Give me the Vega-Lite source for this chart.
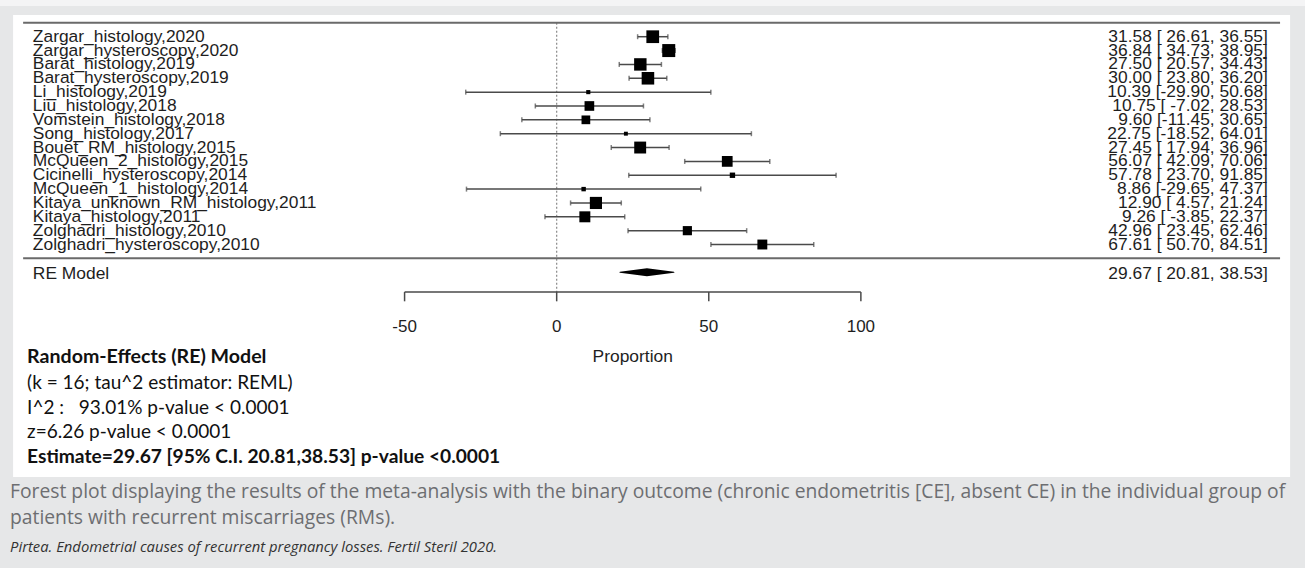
{
  "$schema": "https://vega.github.io/schema/vega-lite/v6.json",
  "width": 1305,
  "height": 568,
  "autosize": {"type": "fit", "contains": "padding"},
  "padding": 0,
  "background": "#e6e7e8",
  "config": {"view": {"stroke": null}, "axis": {"disable": true}},
  "datasets": {
    "studies": [
      {"row": 16, "study": "Zargar_histology,2020", "est": 31.58, "lb": 26.61, "ub": 36.55, "weight": 8.18, "ci": "31.58 [ 26.61, 36.55]"},
      {"row": 15, "study": "Zargar_hysteroscopy,2020", "est": 36.84, "lb": 34.73, "ub": 38.95, "weight": 8.35, "ci": "36.84 [ 34.73, 38.95]"},
      {"row": 14, "study": "Barat_histology,2019", "est": 27.5, "lb": 20.57, "ub": 34.43, "weight": 8.0, "ci": "27.50 [ 20.57, 34.43]"},
      {"row": 13, "study": "Barat_hysteroscopy,2019", "est": 30.0, "lb": 23.8, "ub": 36.2, "weight": 8.08, "ci": "30.00 [ 23.80, 36.20]"},
      {"row": 12, "study": "Li_histology,2019", "est": 10.39, "lb": -29.9, "ub": 50.68, "weight": 3.13, "ci": "10.39 [-29.90, 50.68]"},
      {"row": 11, "study": "Liu_histology,2018", "est": 10.75, "lb": -7.02, "ub": 28.53, "weight": 6.32, "ci": "10.75 [ -7.02, 28.53]"},
      {"row": 10, "study": "Vomstein_histology,2018", "est": 9.6, "lb": -11.45, "ub": 30.65, "weight": 5.75, "ci": "9.60 [-11.45, 30.65]"},
      {"row": 9, "study": "Song_histology,2017", "est": 22.75, "lb": -18.52, "ub": 64.01, "weight": 3.02, "ci": "22.75 [-18.52, 64.01]"},
      {"row": 8, "study": "Bouet_RM_histology,2015", "est": 27.45, "lb": 17.94, "ub": 36.96, "weight": 7.68, "ci": "27.45 [ 17.94, 36.96]"},
      {"row": 7, "study": "McQueen_2_histology,2015", "est": 56.07, "lb": 42.09, "ub": 70.06, "weight": 6.97, "ci": "56.07 [ 42.09, 70.06]"},
      {"row": 6, "study": "Cicinelli_hysteroscopy,2014", "est": 57.78, "lb": 23.7, "ub": 91.85, "weight": 3.8, "ci": "57.78 [ 23.70, 91.85]"},
      {"row": 5, "study": "McQueen_1_histology,2014", "est": 8.86, "lb": -29.65, "ub": 47.37, "weight": 3.29, "ci": "8.86 [-29.65, 47.37]"},
      {"row": 4, "study": "Kitaya_unknown_RM_histology,2011", "est": 12.9, "lb": 4.57, "ub": 21.24, "weight": 7.83, "ci": "12.90 [  4.57, 21.24]"},
      {"row": 3, "study": "Kitaya_histology,2011", "est": 9.26, "lb": -3.85, "ub": 22.37, "weight": 7.11, "ci": "9.26 [ -3.85, 22.37]"},
      {"row": 2, "study": "Zolghadri_histology,2010", "est": 42.96, "lb": 23.45, "ub": 62.46, "weight": 6.02, "ci": "42.96 [ 23.45, 62.46]"},
      {"row": 1, "study": "Zolghadri_hysteroscopy,2010", "est": 67.61, "lb": 50.7, "ub": 84.51, "weight": 6.46, "ci": "67.61 [ 50.70, 84.51]"}
    ],
    "pooled": [
      {"label": "RE Model", "est": 29.67, "lb": 20.81, "ub": 38.53, "ci": "29.67 [ 20.81, 38.53]"}
    ],
    "diamond": [
      {"x": 20.81, "w": 0},
      {"x": 29.67, "w": 1},
      {"x": 38.53, "w": 0}
    ],
    "ticks": [{"v": -50}, {"v": 0}, {"v": 50}, {"v": 100}],
    "notes": [
      {"part": "head", "text": "Random-Effects (RE) Model"},
      {"part": "body", "text": "(k = 16; tau^2 estimator: REML)\nI^2 :\u00a0\u00a0\u00a093.01% p-value < 0.0001\nz=6.26 p-value < 0.0001"},
      {"part": "est", "text": "Estimate=29.67 [95% C.I. 20.81,38.53] p-value <0.0001"},
      {"part": "caption", "text": "Forest plot displaying the results of the meta-analysis with the binary outcome (chronic endometritis [CE], absent CE) in the individual group of\npatients with recurrent miscarriages (RMs)."},
      {"part": "credit", "text": "Pirtea. Endometrial causes of recurrent pregnancy losses. Fertil Steril 2020."}
    ]
  },
  "layer": [
    {
      "data": {"values": [{}]},
      "mark": {"type": "rect", "color": "#f4f4f5"},
      "encoding": {
        "x": {"datum": -183, "type": "quantitative", "scale": {"domain": [-183, 246], "nice": false, "zero": false}, "axis": null},
        "x2": {"datum": 246},
        "y": {"datum": 18.65, "type": "quantitative", "scale": {"domain": [-22.35, 18.65], "nice": false, "zero": false}, "axis": null},
        "y2": {"datum": 18.22}
      }
    },
    {
      "data": {"values": [{}]},
      "mark": {"type": "rect", "color": "#ffffff"},
      "encoding": {
        "x": {"datum": -178.7, "type": "quantitative"},
        "x2": {"datum": 241.1},
        "y": {"datum": 17.57, "type": "quantitative"},
        "y2": {"datum": -15.79}
      }
    },
    {
      "data": {"values": [{}]},
      "mark": {"type": "rule", "color": "#8a8a8a", "strokeWidth": 1.2, "strokeDash": [2, 2]},
      "encoding": {
        "x": {"datum": 0, "type": "quantitative"},
        "y": {"datum": 17, "type": "quantitative"},
        "y2": {"datum": -2.43}
      }
    },
    {
      "data": {"values": [{"r": 17}, {"r": 0}]},
      "mark": {"type": "rule", "color": "#6a6a6a", "strokeWidth": 2},
      "encoding": {
        "x": {"datum": -175.4, "type": "quantitative"},
        "x2": {"datum": 237.8},
        "y": {"field": "r", "type": "quantitative"}
      }
    },
    {
      "data": {"name": "studies"},
      "mark": {"type": "rule", "color": "#4a4a4a", "strokeWidth": 1.5},
      "encoding": {
        "x": {"field": "lb", "type": "quantitative"},
        "x2": {"field": "ub"},
        "y": {"field": "row", "type": "quantitative"}
      }
    },
    {
      "data": {"name": "studies"},
      "mark": {"type": "tick", "orient": "vertical", "color": "#4a4a4a", "size": 5, "thickness": 1.5},
      "encoding": {
        "x": {"field": "lb", "type": "quantitative"},
        "y": {"field": "row", "type": "quantitative"}
      }
    },
    {
      "data": {"name": "studies"},
      "mark": {"type": "tick", "orient": "vertical", "color": "#4a4a4a", "size": 5, "thickness": 1.5},
      "encoding": {
        "x": {"field": "ub", "type": "quantitative"},
        "y": {"field": "row", "type": "quantitative"}
      }
    },
    {
      "data": {"name": "studies"},
      "mark": {"type": "point", "shape": "square", "filled": true, "color": "#000000", "opacity": 1},
      "encoding": {
        "x": {"field": "est", "type": "quantitative"},
        "y": {"field": "row", "type": "quantitative"},
        "size": {"field": "weight", "type": "quantitative", "scale": {"type": "pow", "exponent": 2, "domain": [1.75, 8.35], "range": [0, 169], "zero": false}, "legend": null}
      }
    },
    {
      "data": {"name": "studies"},
      "mark": {"type": "text", "align": "left", "baseline": "middle", "font": "Liberation Sans, Arial", "fontSize": 17.4, "color": "#1e1e1e"},
      "encoding": {
        "x": {"datum": -172.2, "type": "quantitative"},
        "y": {"field": "row", "type": "quantitative"},
        "text": {"field": "study"}
      }
    },
    {
      "data": {"name": "studies"},
      "mark": {"type": "text", "align": "right", "baseline": "middle", "font": "Liberation Sans, Arial", "fontSize": 17.4, "color": "#1e1e1e"},
      "encoding": {
        "x": {"datum": 233.8, "type": "quantitative"},
        "y": {"field": "row", "type": "quantitative"},
        "text": {"field": "ci"}
      }
    },
    {
      "data": {"name": "diamond"},
      "mark": {"type": "trail", "color": "#000000"},
      "encoding": {
        "x": {"field": "x", "type": "quantitative"},
        "y": {"datum": -1, "type": "quantitative"},
        "size": {"field": "w", "type": "quantitative", "scale": {"domain": [0, 1], "range": [0, 8]}, "legend": null}
      }
    },
    {
      "data": {"name": "pooled"},
      "mark": {"type": "text", "align": "left", "baseline": "middle", "dy": 1.5, "font": "Liberation Sans, Arial", "fontSize": 17.4, "color": "#1e1e1e"},
      "encoding": {
        "x": {"datum": -172.2, "type": "quantitative"},
        "y": {"datum": -1, "type": "quantitative"},
        "text": {"field": "label"}
      }
    },
    {
      "data": {"name": "pooled"},
      "mark": {"type": "text", "align": "right", "baseline": "middle", "dy": 1.5, "font": "Liberation Sans, Arial", "fontSize": 17.4, "color": "#1e1e1e"},
      "encoding": {
        "x": {"datum": 233.8, "type": "quantitative"},
        "y": {"datum": -1, "type": "quantitative"},
        "text": {"field": "ci"}
      }
    },
    {
      "data": {"values": [{}]},
      "mark": {"type": "rule", "color": "#4a4a4a", "strokeWidth": 1.5},
      "encoding": {
        "x": {"datum": -50, "type": "quantitative"},
        "x2": {"datum": 100},
        "y": {"datum": -2.43, "type": "quantitative"}
      }
    },
    {
      "data": {"name": "ticks"},
      "mark": {"type": "rule", "color": "#4a4a4a", "strokeWidth": 1.5},
      "encoding": {
        "x": {"field": "v", "type": "quantitative"},
        "y": {"datum": -2.43, "type": "quantitative"},
        "y2": {"datum": -3.1}
      }
    },
    {
      "data": {"name": "ticks"},
      "mark": {"type": "text", "align": "center", "baseline": "middle", "font": "Liberation Sans, Arial", "fontSize": 17, "color": "#1e1e1e"},
      "encoding": {
        "x": {"field": "v", "type": "quantitative"},
        "y": {"datum": -4.93, "type": "quantitative"},
        "text": {"field": "v"}
      }
    },
    {
      "data": {"values": [{"title": "Proportion"}]},
      "mark": {"type": "text", "align": "center", "baseline": "middle", "font": "Liberation Sans, Arial", "fontSize": 17.4, "color": "#1e1e1e"},
      "encoding": {
        "x": {"datum": 25, "type": "quantitative"},
        "y": {"datum": -7.1, "type": "quantitative"},
        "text": {"field": "title"}
      }
    },
    {
      "data": {"name": "notes"},
      "transform": [{"filter": "datum.part === 'head'"}],
      "mark": {"type": "text", "align": "left", "baseline": "middle", "font": "Lato", "fontSize": 19.6, "fontWeight": "bold", "color": "#111111"},
      "encoding": {
        "x": {"datum": -174.1, "type": "quantitative"},
        "y": {"datum": -7.13, "type": "quantitative"},
        "text": {"field": "text"}
      }
    },
    {
      "data": {"name": "notes"},
      "transform": [{"filter": "datum.part === 'body'"}],
      "mark": {"type": "text", "align": "left", "baseline": "middle", "lineBreak": "\n", "lineHeight": 24.7, "font": "Lato", "fontSize": 19, "color": "#111111"},
      "encoding": {
        "x": {"datum": -174.1, "type": "quantitative"},
        "y": {"datum": -9.0, "type": "quantitative"},
        "text": {"field": "text"}
      }
    },
    {
      "data": {"name": "notes"},
      "transform": [{"filter": "datum.part === 'est'"}],
      "mark": {"type": "text", "align": "left", "baseline": "middle", "font": "Lato", "fontSize": 19.2, "fontWeight": "bold", "color": "#111111"},
      "encoding": {
        "x": {"datum": -174.1, "type": "quantitative"},
        "y": {"datum": -14.35, "type": "quantitative"},
        "text": {"field": "text"}
      }
    },
    {
      "data": {"name": "notes"},
      "transform": [{"filter": "datum.part === 'caption'"}],
      "mark": {"type": "text", "align": "left", "baseline": "middle", "lineBreak": "\n", "lineHeight": 26, "font": "Open Sans", "fontSize": 19.3, "color": "#6d6e71"},
      "encoding": {
        "x": {"datum": -179.7, "type": "quantitative"},
        "y": {"datum": -16.87, "type": "quantitative"},
        "text": {"field": "text"}
      }
    },
    {
      "data": {"name": "notes"},
      "transform": [{"filter": "datum.part === 'credit'"}],
      "mark": {"type": "text", "align": "left", "baseline": "middle", "font": "Open Sans", "fontSize": 14.8, "fontStyle": "italic", "color": "#333333"},
      "encoding": {
        "x": {"datum": -179.7, "type": "quantitative"},
        "y": {"datum": -20.92, "type": "quantitative"},
        "text": {"field": "text"}
      }
    }
  ],
  "resolve": {"scale": {"size": "independent"}}
}
